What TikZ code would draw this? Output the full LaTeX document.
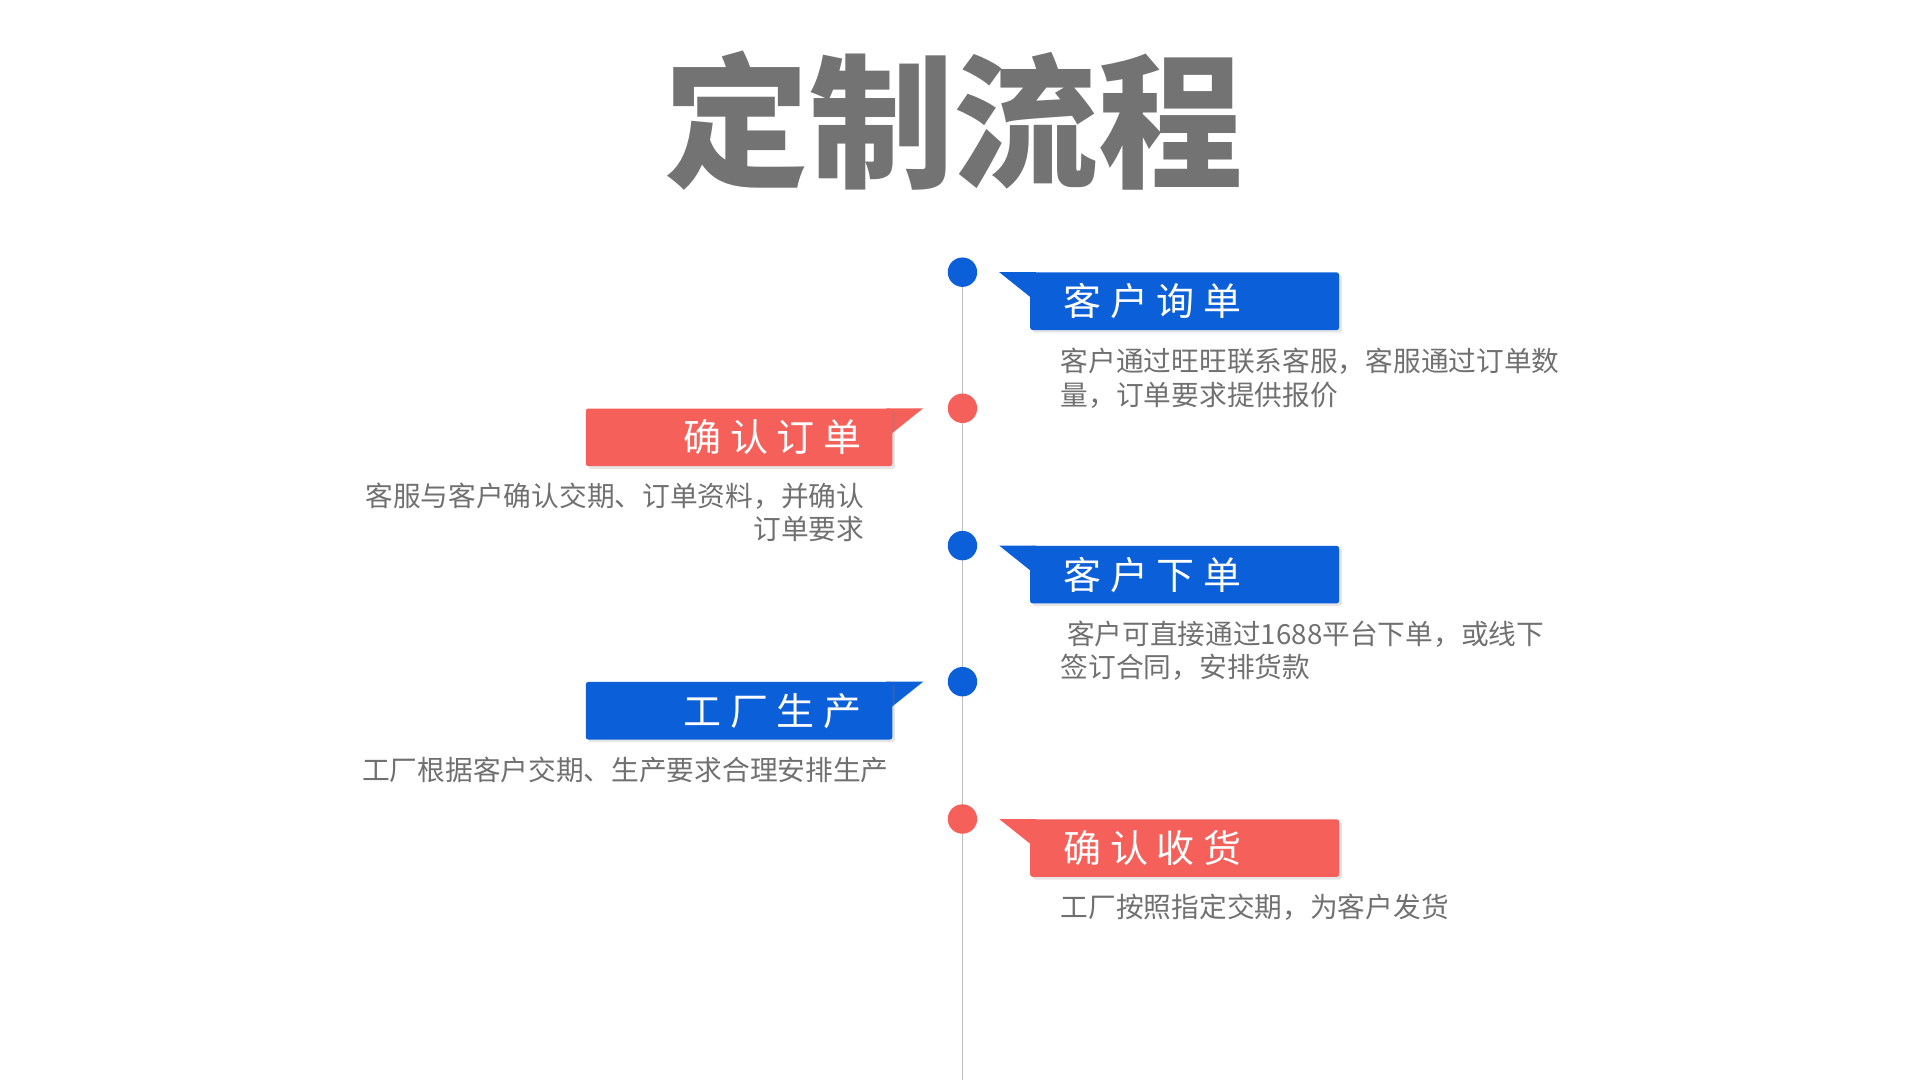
\documentclass[tikz,border=0pt]{standalone}
\usepackage{fontspec}
\newfontfamily\cjk{Noto Sans CJK SC}
\usetikzlibrary{positioning,shadows}
\definecolor{stepblue}{HTML}{0B5FD8}
\definecolor{stepred}{HTML}{F5605A}
\definecolor{desc}{HTML}{707070}
\begin{document}
\begin{tikzpicture}[x=1pt,y=-1pt,
  step_dot/.style={circle, minimum size=24pt, inner sep=0pt},
  step_box/.style={rounded corners=2pt, minimum width=252pt, minimum height=47pt, inner sep=0pt, drop shadow={opacity=0.2}},
  step_text/.style={text=white, font=\cjk\fontsize{31}{31}\selectfont},
  desc_text/.style={text=desc, font=\cjk\fontsize{22.6}{27}\selectfont, inner sep=0pt},
]
\useasboundingbox (0,0) rectangle (1566,881);
\node (title) at (778,98) [font=\cjk\bfseries\fontsize{118}{118}\selectfont, text=black!55] {定制流程};
\draw [black!25, line width=1.5pt] (785,222) coordinate (top) -- (785,881) coordinate (bottom);
% dots on the line
\node (d1) [step_dot, fill=stepblue] at (785,222) {};
\node (d2) [step_dot, fill=stepred]  at (785,333) {};
\node (d3) [step_dot, fill=stepblue] at (785,445) {};
\node (d4) [step_dot, fill=stepblue] at (785,556) {};
\node (d5) [step_dot, fill=stepred]  at (785,668) {};
% right boxes
\foreach \n/\y/\c/\t in {b1/222/stepblue/客\ 户\ 询\ 单, b3/445/stepblue/客\ 户\ 下\ 单, b5/668/stepred/确\ 认\ 收\ 货}{
  \fill [\c] (815,\y) -- (845,\y) -- (845,\y+24) -- cycle;
  \node (\n) [step_box, fill=\c, anchor=north west] at (840,\y) {};
  \node [step_text, anchor=west] at ([xshift=24pt]\n.west) {\t};
}
% left boxes
\foreach \n/\y/\c/\t in {b2/333/stepred/确\ 认\ 订\ 单, b4/556/stepblue/工\ 厂\ 生\ 产}{
  \fill [\c] (753,\y) -- (723,\y) -- (723,\y+24) -- cycle;
  \node (\n) [step_box, fill=\c, anchor=north east, minimum width=250pt] at (728,\y) {};
  \node [step_text, anchor=east] at ([xshift=-22pt]\n.east) {\t};
}
% descriptions
\node (t1) [desc_text, anchor=north west, align=left] at (865,284) {客户通过旺旺联系客服，客服通过订单数\\量，订单要求提供报价};
\node (t2) [desc_text, anchor=north east, align=right] at (705,394) {客服与客户确认交期、订单资料，并确认\\订单要求};
\node (t3) [desc_text, anchor=north west, align=left] at (865,506) {\ 客户可直接通过1688平台下单，或线下\\签订合同，安排货款};
\node (t4) [desc_text, anchor=north east] at (725,617) {工厂根据客户交期、生产要求合理安排生产};
\node (t5) [desc_text, anchor=north west] at (865,729) {工厂按照指定交期，为客户发货};
\end{tikzpicture}
\end{document}
